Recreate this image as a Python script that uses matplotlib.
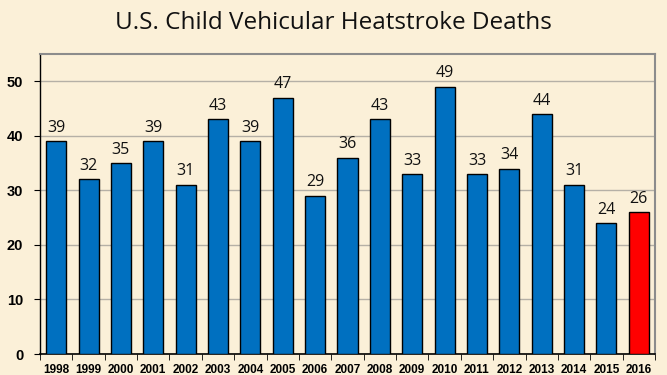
import numpy as np
import matplotlib.pyplot as plt

# yearly counts
years = ['1998', '1999', '2000', '2001', '2002', '2003', '2004', '2005', '2006', '2007',
         '2008', '2009', '2010', '2011', '2012', '2013', '2014', '2015', '2016']
deaths = [39, 32, 35, 39, 31, 43, 39, 47, 29, 36, 43, 33, 49, 33, 34, 44, 31, 24, 26]
highlight_year = '2016'

bg = '#FBF0D8'
colors = ['#FF0000' if y == highlight_year else '#0070C0' for y in years]

fig = plt.figure(figsize=(6.67, 3.75), dpi=100, facecolor=bg)
ax = fig.add_axes([40 / 667, 1 - 354 / 375, 615 / 667, 300 / 375])
ax.set_facecolor(bg)

x = np.arange(len(years))
bars = ax.bar(x, deaths, width=0.62, color=colors, edgecolor='black', linewidth=1.0, zorder=3)
for xi, v in zip(x, deaths):
    ax.text(xi, v + 1.0, str(v), ha='center', va='bottom', fontsize=11.5,
            family='Open Sans', color='#111111')

ax.set_xlim(-0.5, len(years) - 0.5)
ax.set_ylim(0, 55)
ax.set_yticks(range(0, 51, 10))
ax.yaxis.grid(True, color='#B5B0A6', linewidth=1.0, zorder=0)
ax.set_xticks(x)
ax.set_xticklabels(years, fontsize=8.5, fontweight='bold', family='Liberation Sans')
ax.set_xticks(np.arange(-0.5, len(years), 1), minor=True)
ax.tick_params(axis='x', which='major', length=0, pad=7)
ax.tick_params(axis='x', which='minor', length=4, direction='out', color='black')
ax.tick_params(axis='y', length=4, direction='out', labelsize=10.5, pad=8)
for lbl in ax.get_yticklabels():
    lbl.set_fontweight('bold')
    lbl.set_family('Liberation Sans')

ax.spines['left'].set_color('black')
ax.spines['bottom'].set_color('black')
ax.spines['left'].set_linewidth(1.0)
ax.spines['bottom'].set_linewidth(1.2)
ax.spines['top'].set_color('#8C8C8C')
ax.spines['right'].set_color('#8C8C8C')
ax.spines['top'].set_linewidth(1.5)
ax.spines['right'].set_linewidth(1.5)

fig.text(0.5, 1 - 23 / 375, 'U.S. Child Vehicular Heatstroke Deaths', ha='center', va='center',
         fontsize=17.5, family='Open Sans', color='#111111')

fig.savefig('out.png', dpi=100, facecolor=bg)
